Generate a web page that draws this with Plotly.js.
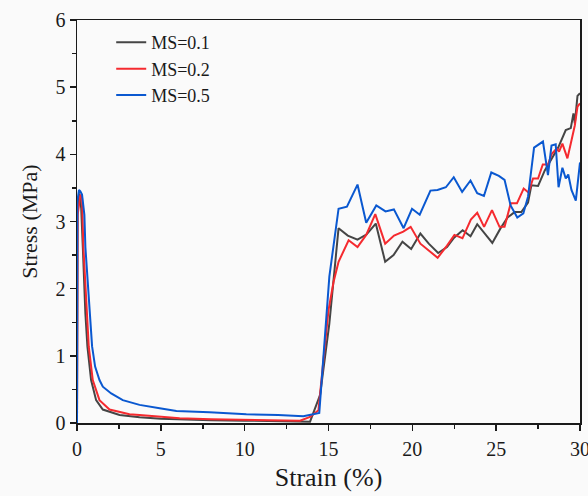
<!DOCTYPE html>
<html>
<head>
<meta charset="utf-8">
<script src="https://cdn.plot.ly/plotly-3.0.1.min.js"></script>
<style>
  html, body { margin: 0; padding: 0; background: #fafafa; }
  #chart { width: 588px; height: 496px; }
</style>
</head>
<body>
<div id="chart"></div>
<script>
// Series names
const seriesNames = ["MS=0.1", "MS=0.2", "MS=0.5"];

// MS=0.1 (strain %, stress MPa)
const strain01 = [0, 0.03, 0.14, 0.25, 0.35, 0.5, 0.62, 0.84, 1.14, 1.54, 2.54, 3.73, 5, 6.5, 8, 10, 12, 13.5, 13.9,
  14.5, 15.05, 15.6, 16.15, 16.73, 17.28, 17.82, 18.38, 18.88, 19.41, 19.93, 20.48, 20.98, 21.54, 22.07, 22.49,
  23.0, 23.47, 23.87, 24.3, 24.77, 25.24, 25.68, 26.1, 26.5, 26.9, 27.1, 27.5, 27.9, 28.25, 28.7, 29.15, 29.45,
  29.61, 29.69, 29.85, 30];
const stress01 = [0, 3.2, 3.42, 3.2, 2.6, 1.63, 1.14, 0.64, 0.34, 0.2, 0.12, 0.085, 0.065, 0.05, 0.04, 0.035, 0.03, 0.02, 0.02,
  0.42, 1.48, 2.9, 2.79, 2.73, 2.81, 2.97, 2.4, 2.5, 2.7, 2.59, 2.82, 2.67, 2.53, 2.62, 2.76,
  2.87, 2.78, 2.96, 2.82, 2.68, 2.89, 3.06, 3.14, 3.14, 3.28, 3.54, 3.53, 3.76, 3.91, 4.1, 4.36, 4.39,
  4.61, 4.46, 4.87, 4.91];

// MS=0.2
const strain02 = [0, 0.04, 0.2, 0.3, 0.38, 0.58, 0.7, 0.94, 1.34, 1.94, 3.13, 3.73, 5, 6.12, 8, 10.1, 12, 13.3, 13.9, 14.4,
  14.7, 15.0, 15.3, 15.6, 16.2, 16.73, 17.25, 17.79, 18.38, 18.91, 19.46, 19.9, 20.48, 20.98, 21.51, 22.07, 22.51,
  22.99, 23.49, 23.87, 24.28, 24.75, 25.2, 25.5, 25.87, 26.24, 26.64, 26.93, 27.2, 27.5, 27.78, 28.1, 28.3, 28.61,
  28.75, 28.95, 29.25, 29.45, 29.69, 29.85, 30];
const stress02 = [0, 3.1, 3.4, 3.35, 2.62, 1.63, 1.14, 0.64, 0.34, 0.2, 0.13, 0.12, 0.09, 0.07, 0.055, 0.045, 0.04, 0.035, 0.09, 0.19,
  0.94, 1.68, 2.1, 2.4, 2.72, 2.62, 2.8, 3.11, 2.67, 2.79, 2.85, 2.92, 2.67, 2.57, 2.46, 2.64, 2.8,
  2.75, 3.03, 3.13, 2.92, 3.17, 2.92, 2.92, 3.27, 3.27, 3.49, 3.43, 3.64, 3.64, 3.85, 3.85, 4.0, 4.09,
  4.04, 4.16, 3.94, 4.16, 4.43, 4.71, 4.76];

// MS=0.5
const strain05 = [0, 0.02, 0.12, 0.2, 0.3, 0.44, 0.5, 0.74, 0.9, 1.08, 1.34, 1.54, 2.04, 2.73, 3.73, 4.93, 5.93, 7.9, 10.1, 12, 13.5,
  14.08, 14.45, 15.05, 15.6, 16.1, 16.73, 17.25, 17.85, 18.4, 18.9, 19.48, 19.98, 20.44, 21.08, 21.5, 22.0, 22.47,
  22.97, 23.47, 23.87, 24.27, 24.71, 25.16, 25.5, 25.86, 26.26, 26.62, 26.9, 27.26, 27.79, 28.09, 28.3, 28.55,
  28.72, 28.95, 29.15, 29.3, 29.49, 29.75, 29.92, 30];
const stress05 = [0, 3.3, 3.47, 3.45, 3.4, 3.1, 2.62, 1.63, 1.14, 0.84, 0.64, 0.54, 0.44, 0.34, 0.27, 0.22, 0.18, 0.16, 0.13, 0.12, 0.10,
  0.13, 0.15, 2.18, 3.19, 3.22, 3.55, 2.98, 3.24, 3.15, 3.18, 2.9, 3.19, 3.1, 3.46, 3.47, 3.51, 3.66,
  3.44, 3.61, 3.42, 3.38, 3.73, 3.68, 3.62, 3.24, 3.06, 3.12, 3.37, 4.1, 4.19, 3.69, 4.13, 4.15,
  3.51, 3.8, 3.64, 3.7, 3.47, 3.31, 3.75, 3.88];

const colors = ["#454545", "#f52a2f", "#0a58d0"];
const xs = [strain01, strain02, strain05];
const ys = [stress01, stress02, stress05];

const traces = seriesNames.map((name, i) => ({
  x: xs[i], y: ys[i], name: name, type: "scatter", mode: "lines",
  line: { color: colors[i], width: 2 }
}));

const fontFamily = "Liberation Serif";
const axisCommon = {
  showgrid: false, zeroline: false, showline: true, mirror: true,
  linecolor: "#1a1a1a", linewidth: 1.5,
  ticks: "outside", ticklen: 6, tickwidth: 1.5, tickcolor: "#1a1a1a",
  ticklabeloverflow: "allow",
  tickfont: { family: fontFamily, size: 20, color: "#1a1a1a" }
};

const layout = {
  width: 588, height: 496,
  margin: { l: 77, r: 8, t: 20, b: 73 },
  paper_bgcolor: "#fafafa", plot_bgcolor: "#fafafa",
  font: { family: fontFamily, color: "#1a1a1a" },
  showlegend: true,
  legend: {
    x: 0.068, y: 0.99, xanchor: "left", yanchor: "top",
    bgcolor: "rgba(0,0,0,0)", borderwidth: 0,
    font: { family: fontFamily, size: 18, color: "#1a1a1a" }
  },
  xaxis: Object.assign({}, axisCommon, {
    range: [0, 30], tick0: 0, dtick: 5, ticklabelstandoff: 1,
    minor: { dtick: 2.5, ticklen: 4, tickwidth: 1.5, tickcolor: "#1a1a1a", ticks: "outside" },
    title: { text: "Strain (%)", font: { family: fontFamily, size: 26, color: "#1a1a1a" }, standoff: 9 }
  }),
  yaxis: Object.assign({}, axisCommon, {
    range: [0, 6], tick0: 0, dtick: 1,
    minor: { dtick: 0.5, ticklen: 4, tickwidth: 1.5, tickcolor: "#1a1a1a", ticks: "outside" },
    title: { text: "Stress (MPa)", font: { family: fontFamily, size: 22, color: "#1a1a1a" }, standoff: 12 }
  })
};

Plotly.newPlot("chart", traces, layout, { displayModeBar: false, staticPlot: true });
</script>
</body>
</html>
